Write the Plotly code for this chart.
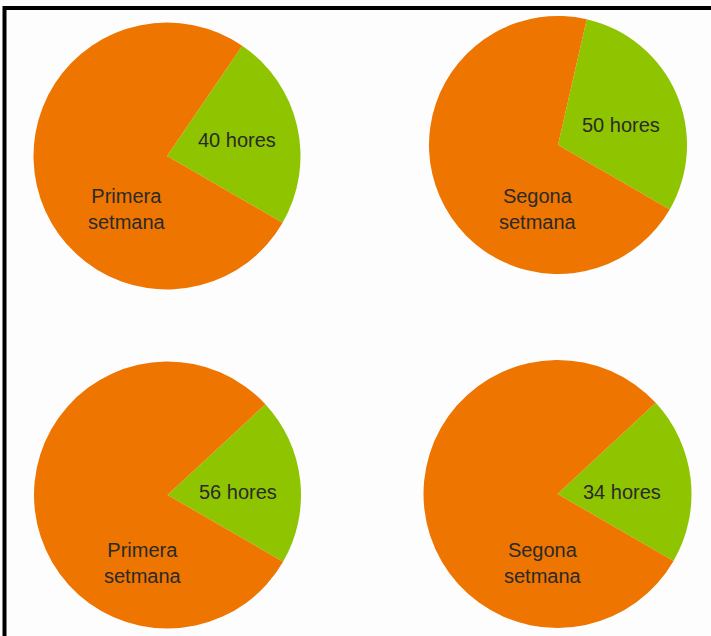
import plotly.graph_objects as go

# ---- data ----
green_hours = [40, 50, 34, 34]          # size of the green slice in each pie
orange_hours = [128, 118, 134, 134]     # size of the orange slice in each pie
green_labels = ["40 hores", "50 hores", "56 hores", "34 hores"]
orange_labels = ["Primera<br>setmana", "Segona<br>setmana",
                 "Primera<br>setmana", "Segona<br>setmana"]

# ---- layout (pixels) ----
W, H = 711, 636
centers = [(167, 156), (558, 145), (167.5, 495), (557.5, 494)]
radii = [133.5, 129, 133.5, 134]
green_end_angle = 120                   # green slice ends at this clockwise angle
green_text_off = [(70, -16), (63, -20), (70, -3), (64, -2)]
orange_text_off = [(-40, 53), (-20, 64), (-25, 68), (-15, 69)]

ORANGE = "#EE7500"
GREEN = "#8EC500"
FONT = dict(family="Liberation Sans, Arial, sans-serif", size=20, color="#2a2a2a")

fig = go.Figure()
annotations = []
for i in range(4):
    cx, cy = centers[i]
    r = radii[i]
    g, o = green_hours[i], orange_hours[i]
    rot = green_end_angle - 360.0 * g / (g + o)
    fig.add_trace(go.Pie(
        values=[g, o],
        labels=["g", "o"],
        sort=False,
        direction="clockwise",
        rotation=rot,
        marker=dict(colors=[GREEN, ORANGE], line=dict(width=0)),
        textinfo="none",
        hoverinfo="skip",
        showlegend=False,
        domain=dict(x=[(cx - r) / W, (cx + r) / W],
                    y=[1 - (cy + r) / H, 1 - (cy - r) / H]),
    ))
    for (dx, dy), txt in ((green_text_off[i], green_labels[i]),
                          (orange_text_off[i], orange_labels[i])):
        annotations.append(dict(
            x=(cx + dx) / W, y=1 - (cy + dy) / H, xref="paper", yref="paper",
            text=txt, showarrow=False, font=FONT, xanchor="center",
            yanchor="middle", align="center"))

shapes = [
    dict(type="line", xref="paper", yref="paper", x0=4.5 / W, x1=4.5 / W,
         y0=0, y1=1 - 6 / H, line=dict(color="black", width=4)),
    dict(type="line", xref="paper", yref="paper", x0=3 / W, x1=1,
         y0=1 - 8 / H, y1=1 - 8 / H, line=dict(color="black", width=4)),
]

fig.update_layout(
    width=W, height=H,
    margin=dict(l=0, r=0, t=0, b=0),
    paper_bgcolor="#FDFDFD",
    plot_bgcolor="#FDFDFD",
    annotations=annotations,
    shapes=shapes,
    showlegend=False,
)

fig.write_html("out.html")
